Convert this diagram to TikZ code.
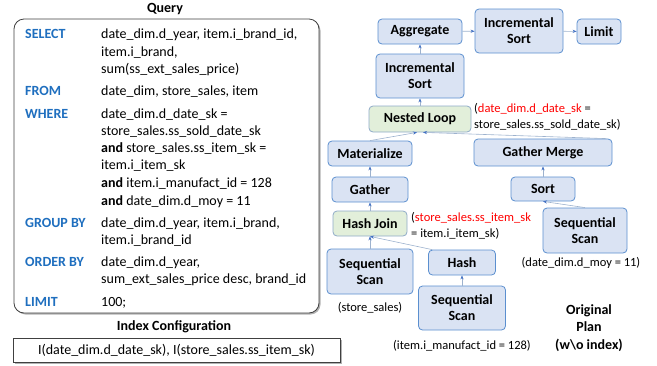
\documentclass[tikz,border=0pt]{standalone}
\usepackage{fontspec}
\setmainfont{Carlito}
\usetikzlibrary{arrows.meta}
\definecolor{kw}{HTML}{1F6FBF}
\definecolor{nodefill}{HTML}{DAE3F3}
\definecolor{nodeline}{HTML}{5B8FCF}
\definecolor{greenfill}{HTML}{E2EFDA}
\definecolor{greenline}{HTML}{8FAAC8}
\definecolor{connline}{HTML}{9DB2CE}
\definecolor{arrowblue}{HTML}{4472C4}
\definecolor{redtxt}{HTML}{FF0000}
\definecolor{boxline}{HTML}{404040}
\begin{document}
\begin{tikzpicture}[x=1pt,y=-1pt,
  opbox/.style={draw=nodeline, line width=0.8pt, fill=nodefill, rounded corners=4pt,
    font=\fontsize{14}{16}\selectfont\bfseries, align=center, inner sep=0pt},
  opgreen/.style={opbox, fill=greenfill, draw=greenline},
  conn/.style={draw=connline, line width=0.6pt, -{Stealth[length=4pt,width=3.2pt,color=arrowblue]}},
  kwd/.style={anchor=base west, font=\fontsize{14}{17}\selectfont\bfseries, text=kw, inner sep=0pt},
  qtxt/.style={anchor=base west, font=\fontsize{14}{17}\selectfont, inner sep=0pt},
  note/.style={font=\fontsize{12.5}{16}\selectfont, inner sep=0pt},
  ttl/.style={font=\fontsize{14}{17}\selectfont\bfseries, inner sep=0pt}
]
\useasboundingbox (0,0) rectangle (657,365);

% ---------- Query ----------
\node[ttl] (qtitle) at (165,9) {Query};
\fill[black!30, rounded corners=10pt] (15.5,20.5) rectangle (320.5,314.5);
\draw[boxline, line width=0.8pt, fill=white, rounded corners=10pt] (14,19) rectangle (319,313);

\node[kwd] (kselect) at (25,38.5) {SELECT};
\node[qtxt] (q1) at (101,38.5) {date\_dim.d\_year, item.i\_brand\_id,};
\node[qtxt] (q2) at (101,56.5) {item.i\_brand,};
\node[qtxt] (q3) at (101,73.5) {sum(ss\_ext\_sales\_price)};
\node[kwd] (kfrom) at (25,95.5) {FROM};
\node[qtxt] (q4) at (101,95.5) {date\_dim, store\_sales, item};
\node[kwd] (kwhere) at (25,118.5) {WHERE};
\node[qtxt] (q5) at (101,118.5) {date\_dim.d\_date\_sk =};
\node[qtxt] (q6) at (101,135.5) {store\_sales.ss\_sold\_date\_sk};
\node[qtxt] (q7) at (101,152.5) {\textbf{and} store\_sales.ss\_item\_sk =};
\node[qtxt] (q8) at (101,169.5) {item.i\_item\_sk};
\node[qtxt] (q9) at (101,187.5) {\textbf{and} item.i\_manufact\_id = 128};
\node[qtxt] (q10) at (101,205.5) {\textbf{and} date\_dim.d\_moy = 11};
\node[kwd] (kgroup) at (25,227.5) {GROUP BY};
\node[qtxt] (q11) at (101,227.5) {date\_dim.d\_year, item.i\_brand,};
\node[qtxt] (q12) at (101,244.5) {item.i\_brand\_id};
\node[kwd] (korder) at (25,266.5) {ORDER BY};
\node[qtxt] (q13) at (101,266.5) {date\_dim.d\_year,};
\node[qtxt] (q14) at (101,283.5) {sum\_ext\_sales\_price desc, brand\_id};
\node[kwd] (klimit) at (25,306.5) {LIMIT};
\node[qtxt] (q15) at (101,306.5) {100;};

% ---------- Index configuration ----------
\node[ttl] (ititle) at (174,327) {Index Configuration};
\fill[black!30] (14.5,339.5) rectangle (341.5,363.5);
\draw[boxline, line width=0.8pt, fill=white] (13,338) rectangle (340,362);
\node[font=\fontsize{14}{17}\selectfont, inner sep=0pt] (itext) at (176.5,350) {I(date\_dim.d\_date\_sk), I(store\_sales.ss\_item\_sk)};

% ---------- Plan ----------
\node[opbox, minimum width=84pt, minimum height=25pt] (agg) at (420,31.5) {Aggregate};
\node[opbox, minimum width=88pt, minimum height=44pt] (isort1) at (519,31) {Incremental\\Sort};
\node[opbox, minimum width=44pt, minimum height=25pt] (limit) at (599,31.5) {Limit};
\node[opbox, minimum width=88pt, minimum height=44pt] (isort2) at (420,76) {Incremental\\Sort};
\node[opgreen, minimum width=102pt, minimum height=26pt] (nl) at (420,119) {Nested Loop};
\node[opbox, minimum width=84pt, minimum height=25pt] (mat) at (370,153.5) {Materialize};
\node[opbox, minimum width=138pt, minimum height=27pt] (gm) at (543,152.5) {Gather Merge};
\node[opbox, minimum width=76pt, minimum height=25pt] (gather) at (370,189.5) {Gather};
\node[opbox, minimum width=64pt, minimum height=24pt] (sort) at (543,189) {Sort};
\node[opgreen, minimum width=74pt, minimum height=25pt] (hj) at (370,223.5) {Hash Join};
\node[opbox, minimum width=84pt, minimum height=45pt] (ssr) at (585,230.5) {Sequential\\Scan};
\node[opbox, minimum width=86pt, minimum height=45pt] (ssl) at (370,271.5) {Sequential\\Scan};
\node[opbox, minimum width=67pt, minimum height=25pt] (hash) at (462,262.5) {Hash};
\node[opbox, minimum width=87pt, minimum height=44pt] (ssb) at (462,308) {Sequential\\Scan};

\node[note, anchor=west, align=left] (nllabel) at (474,117) {(\textcolor{redtxt}{date\_dim.d\_date\_sk} =\\store\_sales.ss\_sold\_date\_sk)};
\node[note, anchor=west, align=left] (hjlabel) at (411,226) {(\textcolor{redtxt}{store\_sales.ss\_item\_sk}\\= item.i\_item\_sk)};
\node[note] (ssrlabel) at (581,263) {(date\_dim.d\_moy = 11)};
\node[note] (ssllabel) at (370,308) {(store\_sales)};
\node[note] (ssblabel) at (462,346) {(item.i\_manufact\_id = 128)};
\node[font=\fontsize{14}{17.5}\selectfont\bfseries, align=center, inner sep=0pt] (orig) at (589,328) {Original\\Plan\\(w\textbackslash o index)};

% ---------- Connectors ----------
\draw[conn] (agg) -- (isort1);
\draw[conn] (isort1) -- (limit);
\draw[conn] (isort2) -- (agg);
\draw[conn] (nl) -- (isort2);
\draw[conn] (mat.north) -- ([xshift=-3pt]nl.south);
\draw[conn] ([xshift=-6pt]gm.north east) -- ([xshift=3pt]nl.south);
\draw[conn] (gather) -- (mat);
\draw[conn] (sort) -- (gm);
\draw[conn] (ssr.north) -- (sort.south);
\draw[conn] (hj) -- (gather);
\draw[conn] (ssl) -- (hj);
\draw[conn] ([xshift=4pt]hash.north west) -- (hj.south);
\draw[conn] (ssb) -- (hash);
\end{tikzpicture}
\end{document}
